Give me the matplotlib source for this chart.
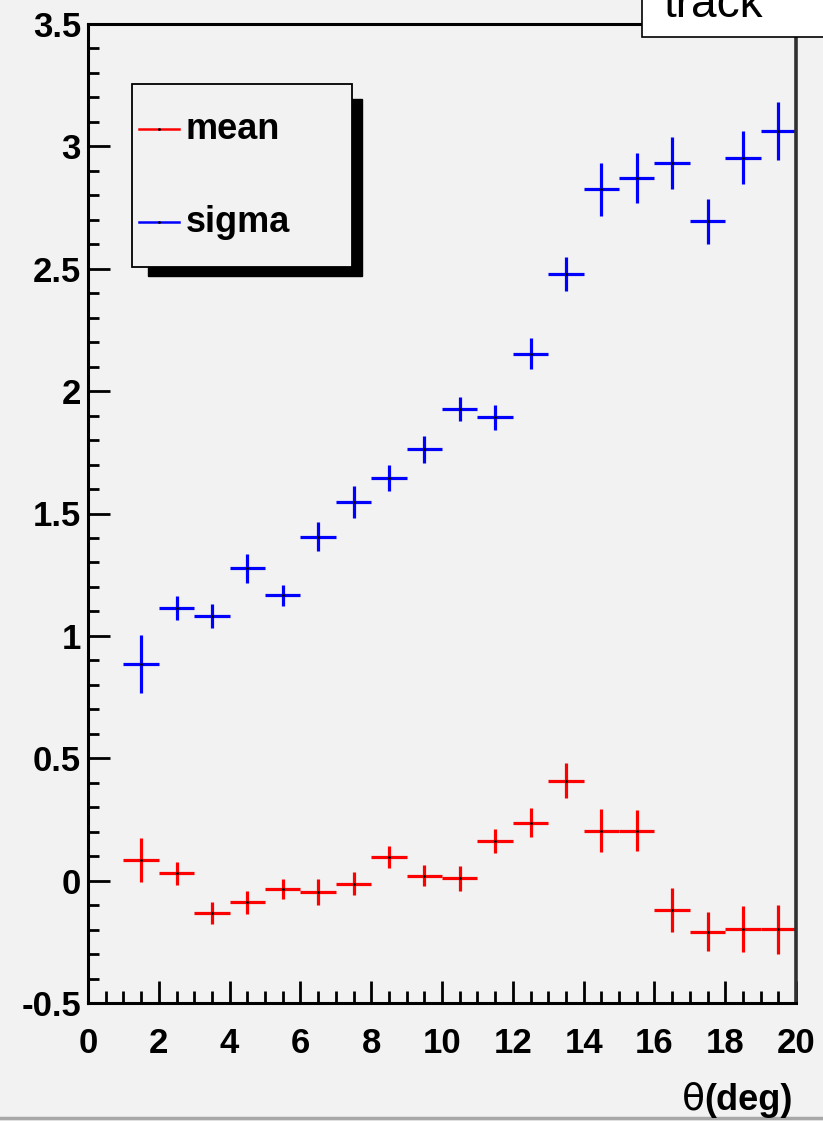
import matplotlib
matplotlib.use("Agg")
import matplotlib.pyplot as plt
from matplotlib.patches import Rectangle
from matplotlib.lines import Line2D
from matplotlib.ticker import MultipleLocator, FormatStrFormatter

plt.rcParams['font.family'] = ['Liberation Sans', 'DejaVu Sans']
plt.rcParams['font.weight'] = 'bold'
plt.rcParams['axes.unicode_minus'] = False

# bin centres (deg) and fitted values per bin
theta = [1.5, 2.5, 3.5, 4.5, 5.5, 6.5, 7.5, 8.5, 9.5, 10.5,
         11.5, 12.5, 13.5, 14.5, 15.5, 16.5, 17.5, 18.5, 19.5]
theta_err = [0.5] * len(theta)
mean = [0.086, 0.030, -0.132, -0.089, -0.034, -0.046, -0.012, 0.097, 0.020, 0.009,
        0.161, 0.236, 0.409, 0.204, 0.204, -0.121, -0.208, -0.198, -0.198]
mean_err = [0.090, 0.046, 0.045, 0.046, 0.040, 0.053, 0.046, 0.046, 0.042, 0.050,
            0.049, 0.059, 0.070, 0.087, 0.085, 0.090, 0.080, 0.095, 0.100]
sigma = [0.886, 1.113, 1.080, 1.276, 1.166, 1.405, 1.546, 1.644, 1.763, 1.926,
         1.893, 2.153, 2.478, 2.825, 2.869, 2.932, 2.694, 2.954, 3.062]
sigma_err = [0.118, 0.049, 0.049, 0.060, 0.043, 0.060, 0.065, 0.054, 0.055, 0.048,
             0.052, 0.064, 0.069, 0.108, 0.102, 0.107, 0.091, 0.108, 0.118]

W, H = 823, 1121
bg = '#f2f2f2'


def fx(x):
    return x / W


def fy(y):
    return 1 - y / H


fig = plt.figure(figsize=(W / 100, H / 100), dpi=100, facecolor=bg)
ax = fig.add_axes([fx(88), fy(1003), fx(796) - fx(88), fy(24) - fy(1003)])
ax.set_facecolor(bg)

for y, yerr, col in [(mean, mean_err, 'red'), (sigma, sigma_err, 'blue')]:
    ax.errorbar(theta, y, xerr=theta_err, yerr=yerr, fmt='none',
                ecolor=col, elinewidth=2.3, capsize=0)
    ax.plot(theta, y, 'k.', ms=2)

ax.set_xlim(0, 20)
ax.set_ylim(-0.5, 3.5)
ax.xaxis.set_major_locator(MultipleLocator(2))
ax.xaxis.set_minor_locator(MultipleLocator(0.5))
ax.yaxis.set_major_locator(MultipleLocator(0.5))
ax.yaxis.set_minor_locator(MultipleLocator(0.1))
ax.yaxis.set_major_formatter(FormatStrFormatter('%g'))
ax.xaxis.set_major_formatter(FormatStrFormatter('%g'))

ax.tick_params(which='both', direction='in', top=False, right=False,
               width=2, labelsize=25)
ax.tick_params(axis='y', which='major', length=16, pad=5)
ax.tick_params(axis='y', which='minor', length=8)
ax.tick_params(axis='x', which='major', length=16, pad=17)
ax.tick_params(axis='x', which='minor', length=9)

for side in ['left', 'bottom', 'top']:
    ax.spines[side].set_linewidth(2.2)
    ax.spines[side].set_color('black')
ax.spines['right'].set_linewidth(2.6)
ax.spines['right'].set_color('#303030')

# x axis title
fig.text(fx(705), fy(1100), 'θ', fontsize=27, fontweight='normal',
         family=['DejaVu Sans'], ha='right', va='center')
fig.text(fx(793), fy(1100), '(deg)', fontsize=26, ha='right', va='center')

# legend box with shadow
fig.patches.append(Rectangle((fx(148), fy(276)), fx(362) - fx(148), fy(99) - fy(276),
                             transform=fig.transFigure, facecolor='black',
                             edgecolor='black', zorder=5))
fig.patches.append(Rectangle((fx(132), fy(267)), fx(352) - fx(132), fy(84) - fy(267),
                             transform=fig.transFigure, facecolor=bg,
                             edgecolor='black', lw=1.3, zorder=6))
for ypix, col, lab in [(129, 'red', 'mean'), (222, 'blue', 'sigma')]:
    fig.lines.append(Line2D([fx(139), fx(179)], [fy(ypix), fy(ypix)],
                            transform=fig.transFigure, color=col, lw=1.8, zorder=7))
    fig.lines.append(Line2D([fx(159)], [fy(ypix)], transform=fig.transFigure,
                            marker='.', ms=2, color='black', zorder=8))
    fig.text(fx(186), fy(ypix + 10), lab, fontsize=26, ha='left', va='baseline',
             zorder=8)

# title box in the corner
fig.patches.append(Rectangle((fx(642), fy(37)), fx(830) - fx(642), fy(-20) - fy(37),
                             transform=fig.transFigure, facecolor='white',
                             edgecolor='black', lw=1.2, zorder=6))
fig.text(fx(663), fy(17), 'track', fontsize=33, fontweight='normal',
         ha='left', va='baseline', zorder=7)

# canvas edge at the bottom
fig.lines.append(Line2D([0, 1], [fy(1118), fy(1118)], transform=fig.transFigure,
                        color='#a8a8a8', lw=2.5))

fig.savefig('out.png', dpi=100, facecolor=bg)
